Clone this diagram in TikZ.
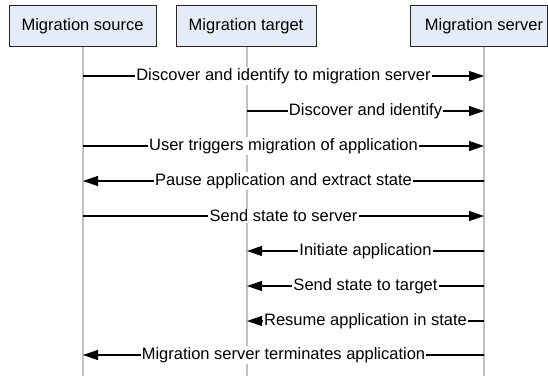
\documentclass[tikz,border=0pt]{standalone}
\usepackage{fontspec}
\setmainfont{Liberation Sans}
\usetikzlibrary{arrows.meta}
\definecolor{boxfill}{HTML}{E6ECF7}
\definecolor{lifegray}{HTML}{C0C0C0}
\begin{document}
\begin{tikzpicture}[x=1pt,y=-1pt,
  txt/.style={font=\fontsize{16.5}{19}\selectfont},
  actor/.style={txt, draw=black!85, line width=0.9pt, fill=boxfill, minimum height=41.5pt, inner sep=0pt},
  life/.style={draw=lifegray, line width=1.5pt},
  msg/.style={draw=black, line width=1.1pt, -{Triangle[length=15pt,width=10pt]}},
  lbl/.style={txt, fill=white, inner sep=1.2pt, midway}
]
\useasboundingbox (0,0) rectangle (548,376);
% lifeline positions
\coordinate (S) at (83,0);
\coordinate (T) at (247,0);
\coordinate (V) at (484,0);
% actors
\node[actor, minimum width=147pt] (src) at (82.5,25.75) {Migration source};
\node[actor, minimum width=140pt] (tgt) at (246,25.75) {Migration target};
\node[actor, minimum width=137pt] (srv) at (478.5,25.75) {\hspace*{11pt}Migration server};
% lifelines
\draw[life] (S |- src.south) -- (S |- 0,376);
\draw[life] (T |- tgt.south) -- (T |- 0,376);
\draw[life] (V |- srv.south) -- (V |- 0,376);
% messages
\draw[msg] (S |- 0,76) -- node[lbl] {Discover and identify to migration server} (V |- 0,76);
\draw[msg] (T |- 0,111) -- node[lbl] {Discover and identify} (V |- 0,111);
\draw[msg] (S |- 0,146) -- node[lbl] {User triggers migration of application} (V |- 0,146);
\draw[msg] (V |- 0,181) -- node[lbl] {Pause application and extract state} (S |- 0,181);
\draw[msg] (S |- 0,216) -- node[lbl] {Send state to server} (V |- 0,216);
\draw[msg] (V |- 0,251) -- node[lbl] {Initiate application} (T |- 0,251);
\draw[msg] (V |- 0,286) -- node[lbl] {Send state to target} (T |- 0,286);
\draw[msg] (V |- 0,321) -- node[lbl] {Resume application in state} (T |- 0,321);
\draw[msg] (V |- 0,355) -- node[lbl] {Migration server terminates application} (S |- 0,355);
\end{tikzpicture}
\end{document}
